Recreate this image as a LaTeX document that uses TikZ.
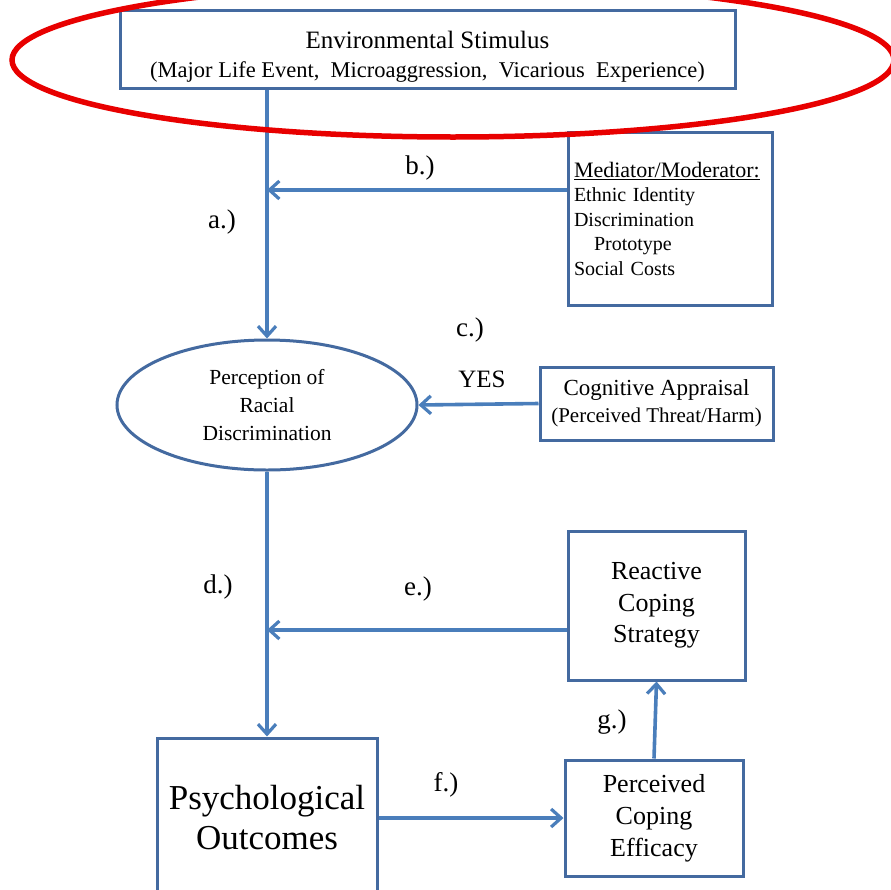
\documentclass[tikz,border=0pt]{standalone}
\usepackage{fontspec}
\setmainfont{Liberation Serif}
\usepackage{tikz}
\usetikzlibrary{arrows.meta,shapes.geometric,calc}
\definecolor{boxcol}{RGB}{68,106,160}
\definecolor{linkcol}{RGB}{74,126,187}
\definecolor{markcol}{RGB}{232,0,0}
\tikzset{
  box/.style={draw=boxcol, line width=3pt, rectangle, align=center, inner sep=0pt},
  link/.style={->, draw=linkcol, line width=3.6pt},
  tag/.style={font=\fontsize{27}{30}\selectfont}
}
\begin{document}
\begin{tikzpicture}[>={Straight Barb[length=10pt,width=18pt,line width=3.2pt]},x=1pt,y=-1pt]
  \useasboundingbox (0,0) rectangle (891,889);
%%
  % Node: stimulus
  \node[box, minimum width=615pt, minimum height=78pt, font=\fontsize{25}{30}\selectfont] (stimulus) at (427.5,49)
    {\rule{0pt}{33pt}Environmental Stimulus\\[-1pt]
     {\fontsize{22.5}{26}\selectfont (Major Life Event,\ \ Microaggression,\ \ Vicarious\ \ Experience)}};
  % Node: mediator
  \node[box, minimum width=204pt, minimum height=173pt, align=left, text width=192pt, inner xsep=6pt,
    font=\fontsize{20}{24.5}\selectfont] (mediator) at (670,218.5)
    {{\fontsize{22}{24.5}\selectfont\underline{Mediator/Moderator:}}\\ Ethnic Identity\\ Discrimination\\ \ \ \ Prototype\\ Social Costs};
  % Node: perception
  \node[ellipse, draw=boxcol, line width=3pt, minimum width=300pt, minimum height=130pt, align=center,
    font=\fontsize{21.5}{28}\selectfont] (perception) at (267,405)
    {Perception of\\ Racial\\ Discrimination};
  % Node: appraisal
  \node[box, minimum width=233pt, minimum height=73pt, font=\fontsize{23}{27}\selectfont] (appraisal) at (656.5,403.5)
    {Cognitive Appraisal\\
     {\fontsize{21}{22}\selectfont (Perceived Threat/Harm)}};
  % Node: reactive
  \node[box, minimum width=177pt, minimum height=149pt, font=\fontsize{26}{31.5}\selectfont] (reactive) at (656.5,605.5)
    {Reactive\\ Coping\\ Strategy};
  % Node: outcomes
  \node[box, minimum width=220pt, minimum height=160pt, font=\fontsize{35}{40}\selectfont] (outcomes) at (267,818)
    {Psychological\\ Outcomes};
  % Node: efficacy
  \node[box, minimum width=178pt, minimum height=116pt, font=\fontsize{26}{32}\selectfont] (efficacy) at (654,818)
    {Perceived\\ Coping\\ Efficacy};
  % Joints on the main line
  \coordinate (bjoin) at (267,190);
  \coordinate (ejoin) at (267,630);
%%
  % Edge: stimulus -> perception
  \draw[link] (stimulus.south -| perception.north) -- (perception.north);
  \node[tag] (la) at (222,222) {a.)};
  % Edge: mediator -> main line
  \draw[link] (mediator.west |- bjoin) -- (bjoin);
  \node[tag] (lb) at (420,168) {b.)};
  % Edge: appraisal -> perception
  \draw[link] (appraisal.west) -- (perception.east);
  \node[tag] (lc) at (470,330) {c.)};
  \node[font=\fontsize{25}{27}\selectfont] (lyes) at (482,379) {YES};
  % Edge: perception -> outcomes
  \draw[link] (perception.south) -- (outcomes.north);
  \node[tag] (ld) at (218,587) {d.)};
  % Edge: reactive -> main line
  \draw[link] (reactive.west |- ejoin) -- (ejoin);
  \node[tag] (le) at (418,589) {e.)};
  % Edge: outcomes -> efficacy
  \draw[link] (outcomes.east) -- (efficacy.west);
  \node[tag] (lf) at (446,785) {f.)};
  % Edge: efficacy -> reactive
  \draw[link] (efficacy.north) -- (reactive.south);
  \node[tag] (lg) at (612,722) {g.)};
%%
  % Mark round the stimulus
  \draw[markcol, line width=5.5pt] (453,60) ellipse (441pt and 77pt);
%
\end{tikzpicture}
\end{document}
